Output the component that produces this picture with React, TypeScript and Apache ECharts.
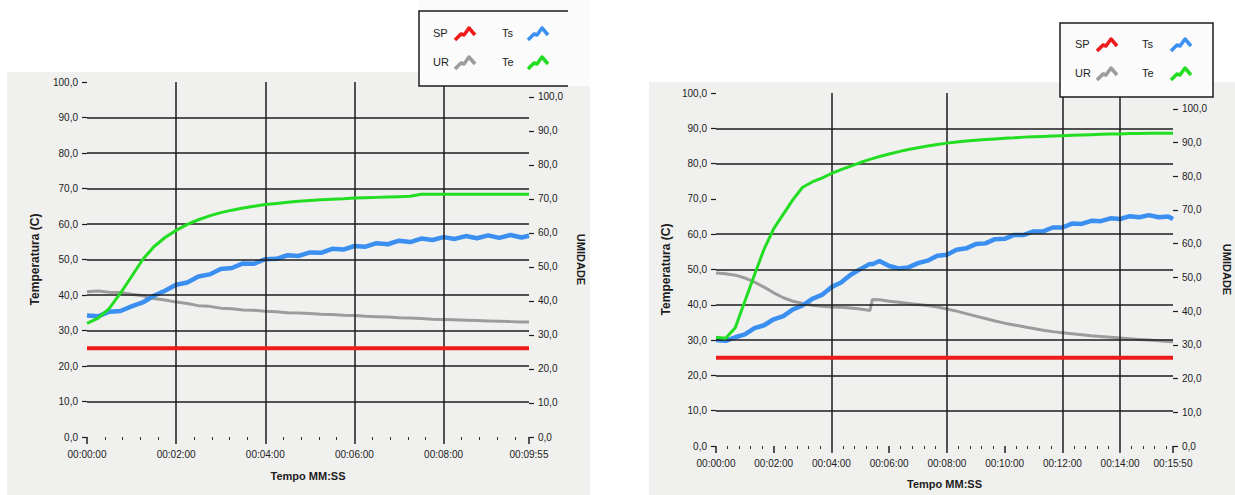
import React, { useEffect, useRef } from 'react';
import * as echarts from 'echarts';

// ---------- data: left chart (seconds, values) ----------
const leftTime = [0, 15, 30, 45, 60, 75, 90, 105, 120, 135, 150, 165, 180, 195, 210, 225, 240, 255, 270, 285, 300, 315, 330, 345, 360, 375, 390, 405, 420, 435, 450, 465, 480, 495, 510, 525, 540, 555, 570, 585, 595];
const leftTe = [32.0, 33.5, 36.2, 40.5, 45.2, 50.0, 53.6, 56.2, 58.2, 59.9, 61.2, 62.3, 63.2, 63.9, 64.5, 65.0, 65.5, 65.8, 66.1, 66.4, 66.6, 66.8, 67.0, 67.1, 67.3, 67.4, 67.5, 67.6, 67.7, 67.8, 68.4, 68.4, 68.4, 68.4, 68.4, 68.4, 68.4, 68.4, 68.4, 68.4, 68.4];
const leftTs = [34.2, 34.0, 35.3, 35.5, 36.8, 37.9, 39.8, 41.2, 42.9, 43.5, 45.2, 45.8, 47.3, 47.6, 48.9, 48.8, 50.1, 50.2, 51.2, 51.0, 52.0, 51.9, 53.0, 52.8, 53.8, 53.6, 54.6, 54.3, 55.3, 54.9, 55.9, 55.5, 56.3, 55.8, 56.6, 56.0, 56.8, 56.1, 56.9, 56.2, 56.7];
const leftUR = [40.9, 41.1, 40.8, 40.7, 40.2, 39.8, 39.0, 38.6, 38.0, 37.6, 37.0, 36.8, 36.3, 36.1, 35.8, 35.7, 35.4, 35.3, 35.0, 34.9, 34.8, 34.6, 34.5, 34.3, 34.2, 34.0, 33.9, 33.8, 33.6, 33.5, 33.4, 33.2, 33.1, 33.0, 32.9, 32.8, 32.7, 32.6, 32.5, 32.4, 32.4];
const leftSP = 25;
const leftMaxTime = 595;
const leftVGrid = [120, 240, 360, 480];
const leftHGrid = [10, 20, 30, 40, 50, 60, 70, 80, 90];

// ---------- data: right chart ----------
const rightTime = [0, 20, 40, 60, 80, 100, 120, 140, 160, 180, 200, 220, 240, 260, 280, 300, 320, 325, 340, 360, 380, 400, 420, 440, 460, 480, 500, 520, 540, 560, 580, 600, 620, 640, 660, 680, 700, 720, 740, 760, 780, 800, 820, 840, 860, 880, 900, 920, 940, 950];
const rightTe = [30.8, 30.5, 33.5, 41.0, 48.5, 55.8, 61.6, 65.7, 69.8, 73.3, 74.8, 75.9, 77.2, 78.3, 79.3, 80.3, 81.2, 81.4, 82.0, 82.7, 83.4, 84.0, 84.5, 85.0, 85.4, 85.8, 86.1, 86.4, 86.6, 86.8, 87.0, 87.2, 87.3, 87.5, 87.6, 87.7, 87.8, 87.9, 88.0, 88.1, 88.2, 88.3, 88.4, 88.4, 88.5, 88.5, 88.6, 88.6, 88.6, 88.6];
const rightTs = [30.0, 29.8, 30.8, 31.6, 33.4, 34.2, 35.9, 36.8, 38.7, 39.8, 41.7, 42.8, 45.0, 46.3, 48.5, 50.1, 51.6, 51.5, 52.4, 51.0, 50.3, 50.6, 51.8, 52.5, 53.9, 54.2, 55.6, 56.0, 57.2, 57.4, 58.6, 58.7, 59.8, 59.8, 60.8, 60.8, 61.9, 61.9, 63.0, 62.9, 63.8, 63.7, 64.5, 64.3, 65.1, 64.8, 65.4, 64.8, 65.0, 64.3];
const rightUR = [49.0, 48.8, 48.4, 47.6, 46.4, 45.0, 43.4, 42.0, 41.0, 40.4, 39.9, 39.6, 39.4, 39.3, 39.1, 38.8, 38.4, 41.5, 41.4, 41.0, 40.7, 40.4, 40.1, 39.8, 39.4, 38.8, 38.2, 37.5, 36.8, 36.1, 35.4, 34.8, 34.3, 33.8, 33.3, 32.8, 32.4, 32.1, 31.8, 31.5, 31.2, 31.0, 30.8, 30.6, 30.4, 30.2, 30.0, 29.8, 29.6, 29.5];
const rightSP = 25;
const rightMaxTime = 950;
const rightVGrid = [240, 480, 720, 840];
const rightHGrid = [10, 20, 30, 40, 50, 60, 80, 90];

const legendNames = ['SP', 'Ts', 'UR', 'Te'];
const COLORS: Record<string, string> = { SP: '#ee1b1b', UR: '#9c9c9c', Ts: '#3a8ff0', Te: '#22dd22' };

const FONT = "'Liberation Sans', Arial, sans-serif";
const INK = '#1c1c1c';

const pad = (n: number) => String(n).padStart(2, '0');
const fmtTime = (s: number) => `00:${pad(Math.floor(s / 60))}:${pad(Math.round(s % 60))}`;
const fmtVal = (v: number) => v.toFixed(1).replace('.', ',');

const pairs = (t: number[], v: number[]) => t.map((x, i) => [x, v[i]]);

function xAxisCfg(gridIndex: number, max: number, nameGap: number, margin: number) {
  return {
    type: 'value', gridIndex, min: 0, max, interval: 120,
    name: 'Tempo MM:SS', nameLocation: 'middle', nameGap,
    nameTextStyle: { fontFamily: FONT, fontSize: 11, fontWeight: 'bold', color: INK },
    axisLine: { show: false },
    axisTick: { show: true, length: 7, lineStyle: { color: INK, width: 1.5 } },
    minorTick: { show: true, splitNumber: 5, length: 3, lineStyle: { color: '#333', width: 1 } },
    splitLine: { show: false },
    axisLabel: { formatter: fmtTime, fontFamily: FONT, fontSize: 10, color: INK, margin, showMaxLabel: true, hideOverlap: false },
  };
}

function yAxisCfg(gridIndex: number, position: string, name: string, nameGap: number, nameRotate: number, max: number, size: number) {
  return {
    type: 'value', gridIndex, position, min: 0, max, interval: 10,
    name, nameLocation: 'middle', nameGap, nameRotate,
    nameTextStyle: { fontFamily: FONT, fontSize: size, fontWeight: 'bold', color: INK },
    axisLine: { show: false },
    axisTick: { show: true, length: 5, lineStyle: { color: INK, width: 1.2 } },
    splitLine: { show: false },
    axisLabel: { formatter: fmtVal, fontFamily: FONT, fontSize: 10, color: INK, margin: 9, showMaxLabel: max === 100 },
  };
}

function seriesFor(idx: number, time: number[], te: number[], ts: number[], ur: number[], sp: number, maxT: number, vGrid: number[], hGrid: number[]) {
  const xi = idx, yi = idx * 2;
  return [
    {
      type: 'line', name: 'grid' + idx, xAxisIndex: xi, yAxisIndex: yi, data: [], z: 1, silent: true,
      markLine: {
        silent: true, symbol: ['none', 'none'], label: { show: false }, animation: false,
        lineStyle: { color: INK, width: 1.5, type: 'solid' },
        data: [...vGrid.map((v) => ({ xAxis: v })), ...hGrid.map((v) => ({ yAxis: v }))],
      },
    },
    { type: 'line', name: 'UR', xAxisIndex: xi, yAxisIndex: yi, data: pairs(time, ur), showSymbol: false, z: 3, lineStyle: { color: COLORS.UR, width: 3 } },
    { type: 'line', name: 'Ts', xAxisIndex: xi, yAxisIndex: yi, data: pairs(time, ts), showSymbol: false, z: 4, lineStyle: { color: COLORS.Ts, width: 4.5 } },
    { type: 'line', name: 'Te', xAxisIndex: xi, yAxisIndex: yi, data: pairs(time, te), showSymbol: false, z: 5, lineStyle: { color: COLORS.Te, width: 3 } },
    { type: 'line', name: 'SP', xAxisIndex: xi, yAxisIndex: yi, data: [[0, sp], [maxT, sp]], showSymbol: false, z: 6, lineStyle: { color: COLORS.SP, width: 4 } },
  ];
}

function legendGraphics(box: { x: number; y: number; w: number; h: number; open: boolean }, cols: number[][], rows: number[]) {
  const els: any[] = [];
  els.push({ type: 'rect', z: 10, shape: { x: box.x, y: box.open ? 0 : box.y, width: box.w, height: box.open ? box.y + box.h : box.h }, style: { fill: '#fbfbfb', stroke: 'none' } });
  if (box.open) {
    els.push({ type: 'polyline', z: 11, shape: { points: [[box.x + box.w - 22, box.y], [box.x, box.y], [box.x, box.y + box.h], [box.x + box.w - 22, box.y + box.h]] }, style: { stroke: INK, lineWidth: 1.5, fill: 'none' } });
  } else {
    els.push({ type: 'rect', z: 11, shape: { x: box.x, y: box.y, width: box.w, height: box.h }, style: { stroke: INK, lineWidth: 1.5, fill: 'none' } });
  }
  legendNames.forEach((n, i) => {
    const c = cols[i % 2];
    const r = rows[Math.floor(i / 2)];
    els.push({ type: 'text', z: 12, x: c[0], y: r, style: { text: n, fontFamily: FONT, fontSize: 11, fill: INK, verticalAlign: 'middle', align: 'left' } });
    const ix = c[1];
    els.push({ type: 'polyline', z: 12, shape: { points: [[ix, r + 7], [ix + 6, r + 1], [ix + 9, r + 2], [ix + 14, r - 5], [ix + 20, r + 2]] }, style: { stroke: COLORS[n], lineWidth: 3.5, fill: 'none', lineJoin: 'round' } });
  });
  return els;
}

export default function App() {
  const ref = useRef<HTMLDivElement>(null);
  useEffect(() => {
    if (!ref.current) return;
    const chart = echarts.init(ref.current, undefined, { renderer: 'svg' });
    chart.setOption({
      animation: false,
      backgroundColor: '#ffffff',
      grid: [
        { left: 87, top: 82, width: 442, height: 355 },
        { left: 716, top: 93, width: 457, height: 353 },
      ],
      xAxis: [xAxisCfg(0, leftMaxTime, 33, 12), xAxisCfg(1, rightMaxTime, 32, 12)],
      yAxis: [
        yAxisCfg(0, 'left', 'Temperatura (C)', 46, 90, 100, 12),
        yAxisCfg(0, 'right', 'UMIDADE', 46, -90, 104.4, 11),
        yAxisCfg(1, 'left', 'Temperatura (C)', 44, 90, 100, 12),
        yAxisCfg(1, 'right', 'UMIDADE', 48, -90, 104.7, 11),
      ],
      graphic: [
        { type: 'rect', z: -10, shape: { x: 7, y: 72, width: 583, height: 423 }, style: { fill: '#f0f0ee' } },
        { type: 'rect', z: -10, shape: { x: 649, y: 82, width: 586, height: 413 }, style: { fill: '#f0f0ee' } },
        ...legendGraphics({ x: 419, y: 11, w: 171, h: 75, open: true }, [[433, 455], [502, 528]], [33, 62]),
        ...legendGraphics({ x: 1060, y: 23, w: 153, h: 74, open: false }, [[1075, 1097], [1142, 1171]], [44, 73]),
      ],
      series: [
        ...seriesFor(0, leftTime, leftTe, leftTs, leftUR, leftSP, leftMaxTime, leftVGrid, leftHGrid),
        ...seriesFor(1, rightTime, rightTe, rightTs, rightUR, rightSP, rightMaxTime, rightVGrid, rightHGrid),
      ],
    });
    return () => chart.dispose();
  }, []);
  return <div ref={ref} style={{ position: 'absolute', left: 0, top: 0, width: 1235, height: 495 }} />;
}
